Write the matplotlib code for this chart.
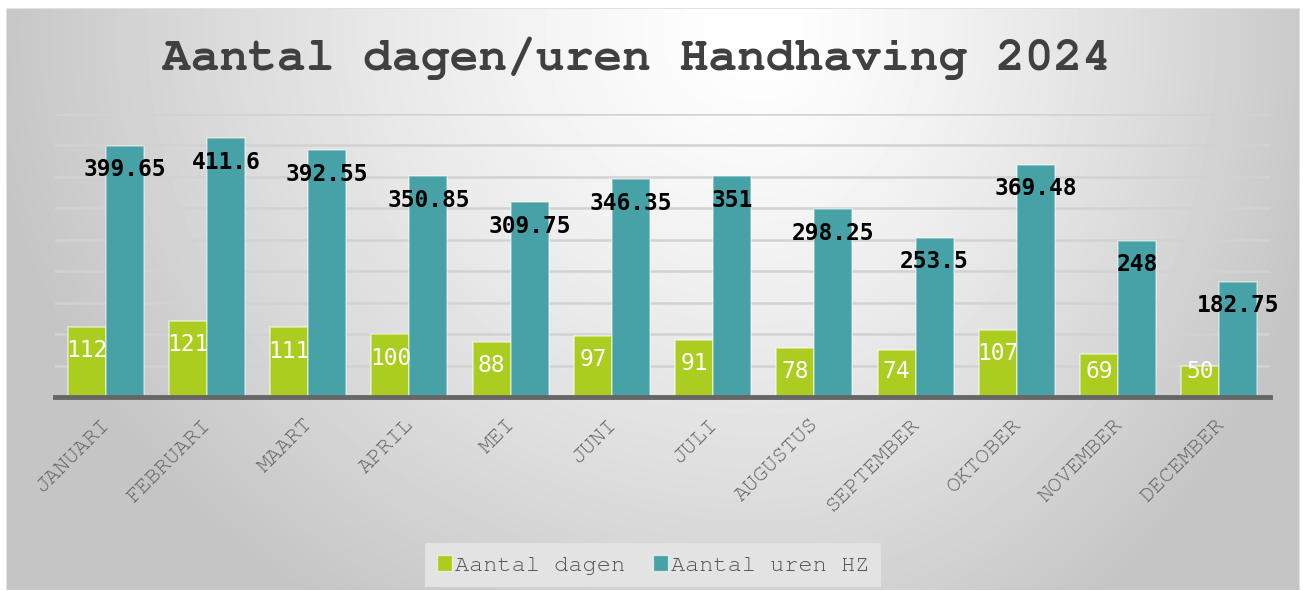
import numpy as np
import matplotlib
matplotlib.use("Agg")
import matplotlib.pyplot as plt
from matplotlib.patches import Patch
from matplotlib.transforms import ScaledTranslation
from matplotlib import font_manager

# ---- data ----
months = ["JANUARI", "FEBRUARI", "MAART", "APRIL", "MEI", "JUNI", "JULI",
          "AUGUSTUS", "SEPTEMBER", "OKTOBER", "NOVEMBER", "DECEMBER"]
dagen = [112, 121, 111, 100, 88, 97, 91, 78, 74, 107, 69, 50]
uren = [399.65, 411.6, 392.55, 350.85, 309.75, 346.35, 351, 298.25, 253.5,
        369.48, 248, 182.75]
series_names = ["Aantal dagen", "Aantal uren HZ"]
title = "Aantal dagen/uren Handhaving 2024"

GREEN = "#aacd1f"
TEAL = "#46a2a7"

_names = {f.name for f in font_manager.fontManager.ttflist}
MONO = next((nm for nm in ["Courier New", "Nimbus Mono PS", "Nimbus Mono L",
                           "FreeMono", "Courier Prime", "Liberation Mono"]
             if nm in _names), "DejaVu Sans Mono")

W, H, DPI = 1303, 591, 100
fig = plt.figure(figsize=(W / DPI, H / DPI), dpi=DPI)
fig.patch.set_facecolor("white")

# ---- background gradient ----
bg = fig.add_axes([0, 0, 1, 1])
bg.axis("off")
img = np.ones((H, W))
x0, x1, y0, y1 = 6, 1300, 8, 590
yy, xx = np.mgrid[y0:y1, x0:x1]
cx, cy = 760.0, 30.0
ax_l, ax_r, ay = 780.0, 580.0, 700.0
dx = np.where(xx < cx, (xx - cx) / ax_l, (xx - cx) / ax_r)
dy = (yy - cy) / ay
r = np.clip(np.sqrt(dx ** 2 + dy ** 2), 0, 1)
val = 1.0 - (1.0 - 0.77) * r ** 1.3
img[y0:y1, x0:x1] = val
img[y0, x0:x1] = 0.88
img[y0:y1, x0] = 0.88
img[y0:y1, x1 - 1] = 0.88
bg.imshow(img, cmap="gray", vmin=0, vmax=1, extent=[0, W, H, 0],
          aspect="auto", interpolation="nearest")
bg.set_xlim(0, W)
bg.set_ylim(H, 0)

# ---- main axes ----
base_px = 397
top_px = 114
ax = fig.add_axes([55 / W, (H - base_px) / H, 1215 / W, (base_px - top_px) / H])
ax.patch.set_alpha(0)
n = len(months)
x = np.arange(n)
bw = 0.375
ax.bar(x - bw / 2, dagen, bw, color=GREEN, edgecolor=(1, 1, 1, 0.55),
       linewidth=1.2, zorder=3)
ax.bar(x + bw / 2, uren, bw, color=TEAL, edgecolor=(1, 1, 1, 0.45),
       linewidth=1.2, zorder=3)
ax.set_xlim(-0.5, n - 0.5)
ax.set_ylim(0, 450)
ax.set_yticks(np.arange(50, 451, 50))
ax.yaxis.grid(True, color="#d2d2d2", linewidth=1.8, zorder=0)
ax.tick_params(axis="y", left=False, labelleft=False)
for s in ["top", "right", "left", "bottom"]:
    ax.spines[s].set_visible(False)
ax.axhline(0, color="#666666", linewidth=3.5, zorder=4, clip_on=False)

ax.set_xticks(x)
ax.set_xticklabels(months, rotation=45, ha="right", va="top",
                   rotation_mode="anchor", fontfamily=MONO,
                   fontsize=16.5, color="#666666")
ax.tick_params(axis="x", length=0, pad=13)
off = ScaledTranslation(-5 / DPI, 0, fig.dpi_scale_trans)
for lab in ax.get_xticklabels():
    lab.set_transform(lab.get_transform() + off)

# ---- data labels ----
for i, v in enumerate(dagen):
    ax.text(i - bw / 2, max(v - 38, 41), f"{v:g}", ha="center", va="center",
            fontfamily="DejaVu Sans Mono", fontsize=16.5, color="white", zorder=5)
for i, v in enumerate(uren):
    ax.text(i + bw / 2, max(v - 38, 41), f"{v:g}", ha="center", va="center",
            fontfamily="DejaVu Sans Mono", fontweight="bold", fontsize=16.5,
            color="black", zorder=5)

# ---- title ----
fig.text(637 / W, (H - 58) / H, title, ha="center", va="center",
         fontfamily=MONO, fontweight="bold", fontsize=34.5,
         color="#404040")

# ---- legend ----
handles = [Patch(facecolor=GREEN, edgecolor=(1, 1, 1, 0.6)),
           Patch(facecolor=TEAL, edgecolor=(1, 1, 1, 0.6))]
leg = fig.legend(handles, series_names, loc="center",
                 bbox_to_anchor=(653 / W, (H - 565) / H), ncol=2,
                 frameon=True, fancybox=False, facecolor="#e3e3e3",
                 edgecolor="none", framealpha=1,
                 prop={"family": MONO, "size": 17},
                 labelcolor="#555555", handlelength=0.65, handleheight=0.65,
                 handletextpad=0.1, columnspacing=1.2, borderpad=0.5)

fig.savefig("out.png", dpi=DPI)
